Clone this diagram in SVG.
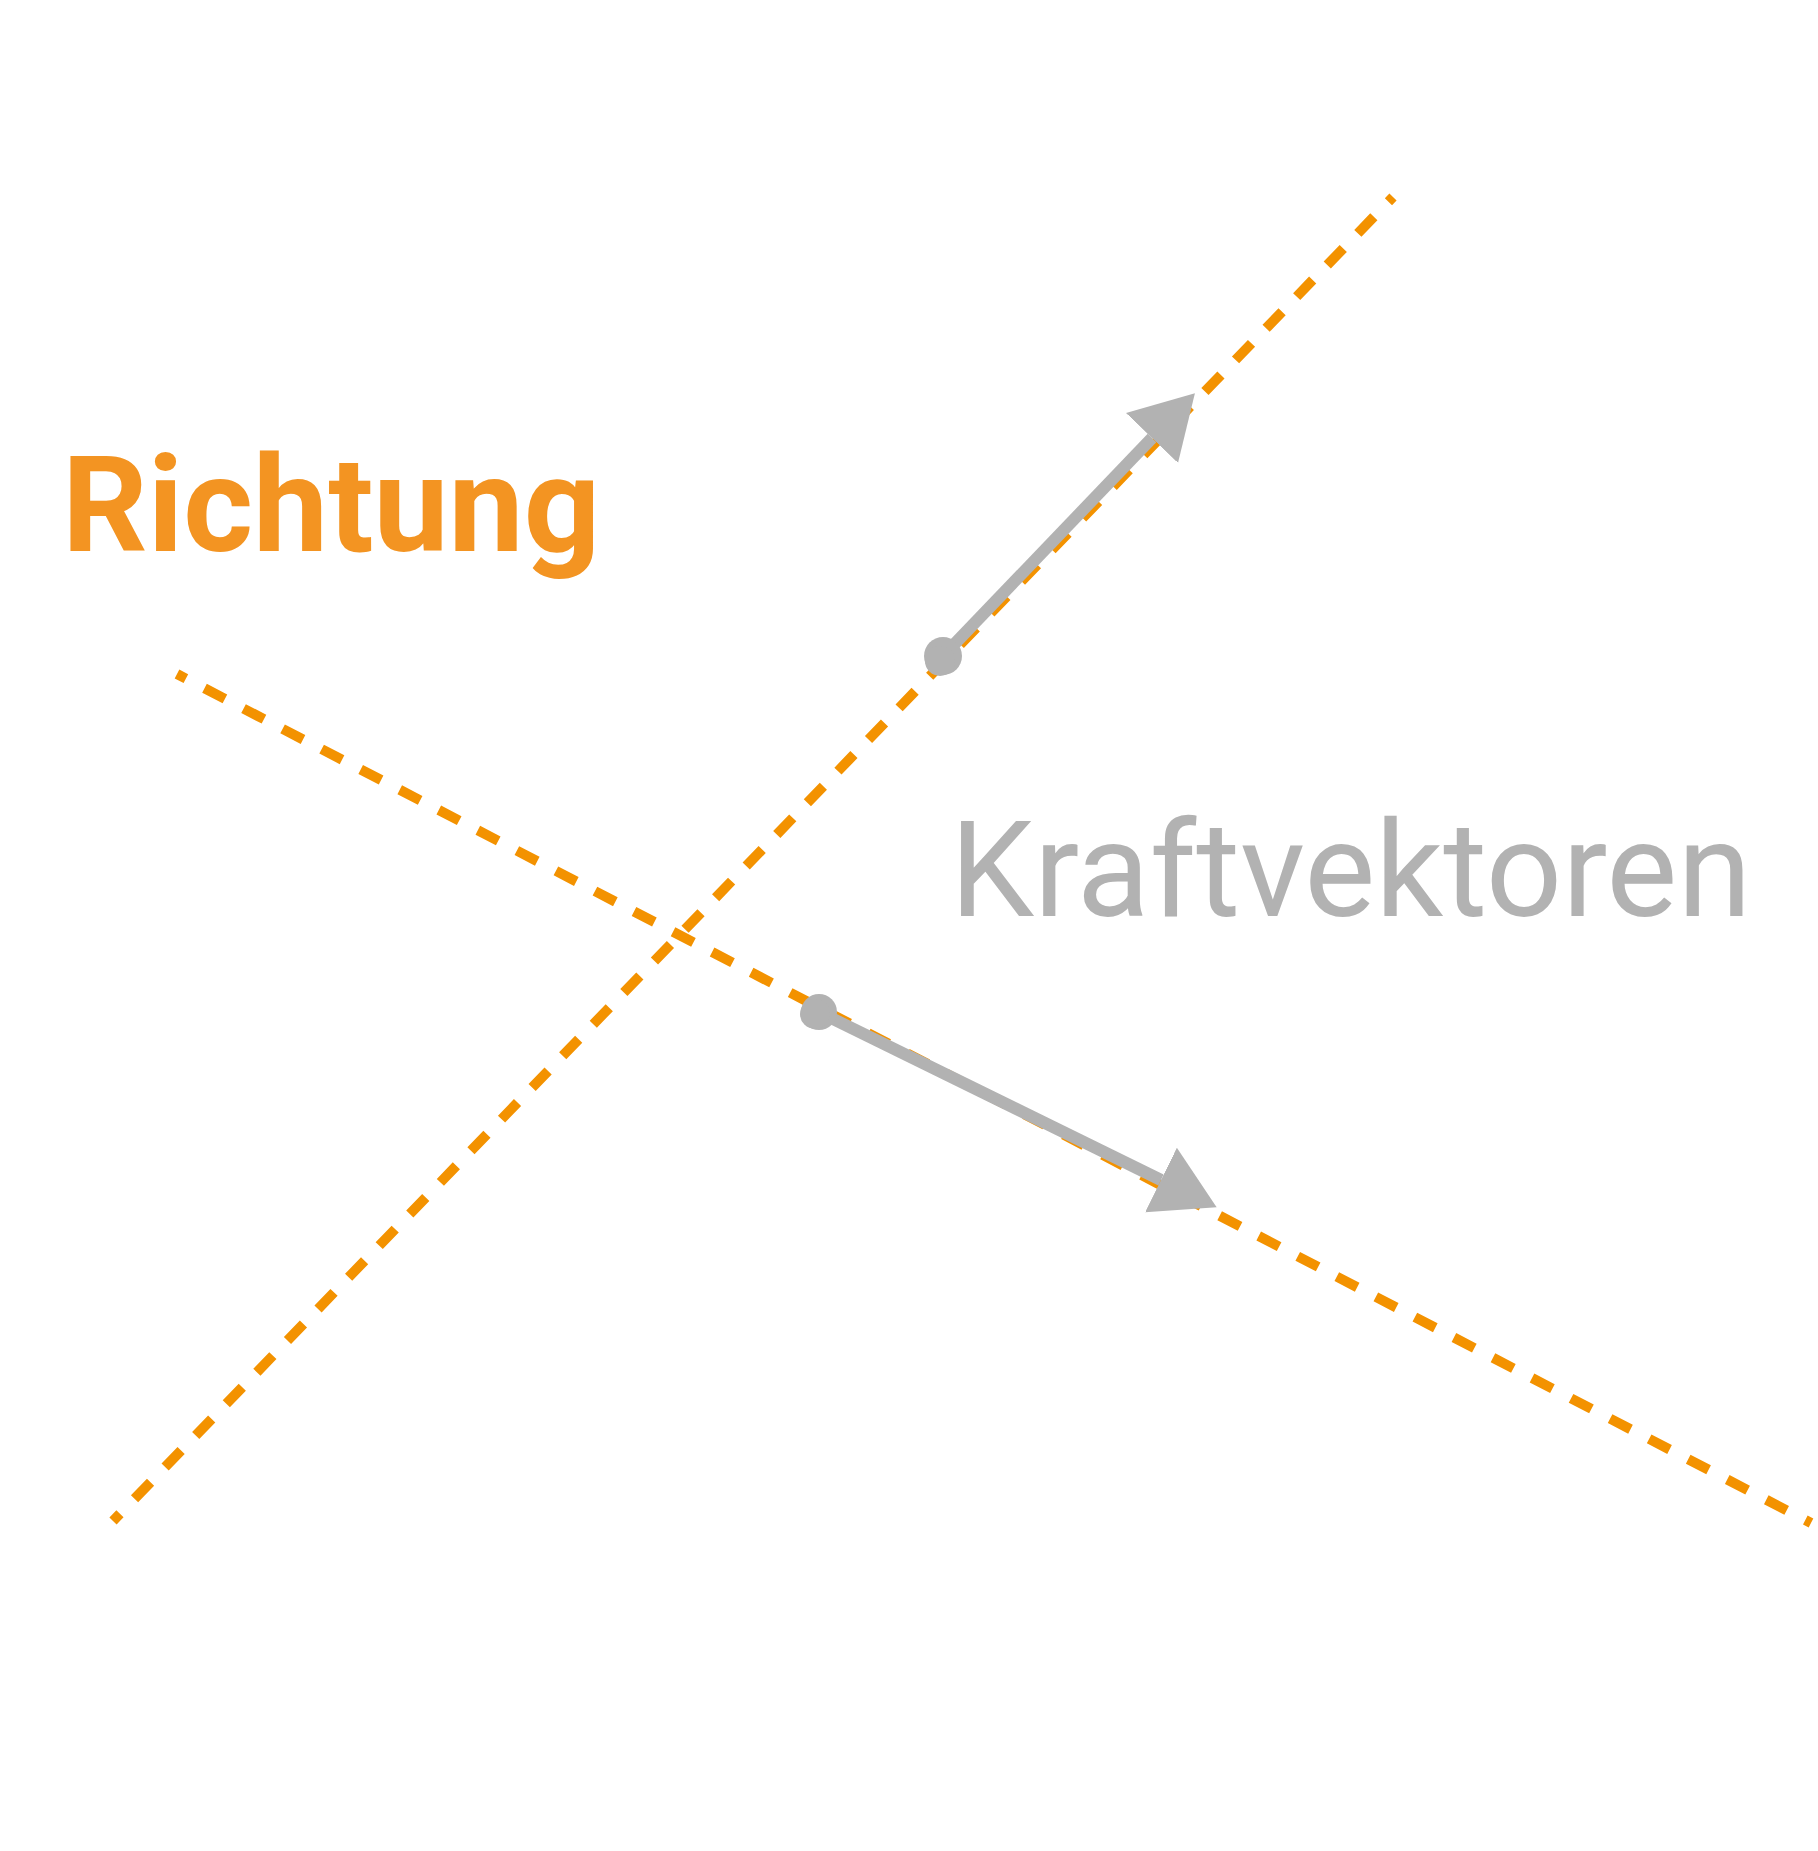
<svg xmlns="http://www.w3.org/2000/svg" width="1818" height="1851" viewBox="0 0 1818 1851">
<style>
.dir{fill:none;stroke:#F39200;stroke-width:10;stroke-dasharray:23 21;stroke-dashoffset:13}
.vec{fill:none;stroke:#B2B2B2;stroke-width:12}
.dot{fill:#B2B2B2}
.t1{font-family:Roboto,"Liberation Sans",sans-serif;font-weight:700;font-size:134px;fill:#F39422}
.t2{font-family:Roboto,"Liberation Sans",sans-serif;font-weight:400;font-size:134px;fill:#B2B2B2}
</style>
<defs>
<marker id="ah" markerUnits="userSpaceOnUse" markerWidth="64" markerHeight="74" viewBox="0 -37 64 74" refX="0" refY="0" orient="auto">
<path d="M0,-36 L62,0 L0,36 Z" fill="#B2B2B2"/>
</marker>
</defs>
<g id="connectors">
<line id="dir1" class="dir" x1="113" y1="1521" x2="1393" y2="197"/>
<line id="dir2" class="dir" x1="177" y1="674" x2="1811" y2="1523"/>
<line id="vec1" class="vec" x1="943" y1="656" x2="1152" y2="438" marker-end="url(#ah)"/>
<line id="vec2" class="vec" x1="819" y1="1012" x2="1161" y2="1180" marker-end="url(#ah)"/>
<circle class="dot" cx="943" cy="656" r="19"/>
<circle class="dot" cx="940" cy="661" r="15"/>
<circle class="dot" cx="819" cy="1012" r="18"/>
<circle class="dot" cx="815" cy="1014" r="15"/>
</g>
<g id="label-richtung">
<text class="t1" x="62" y="551">Richtung</text>
</g>
<g id="label-kraftvektoren">
<text class="t2" x="950" y="916">Kraftvektoren</text>
</g>
</svg>
